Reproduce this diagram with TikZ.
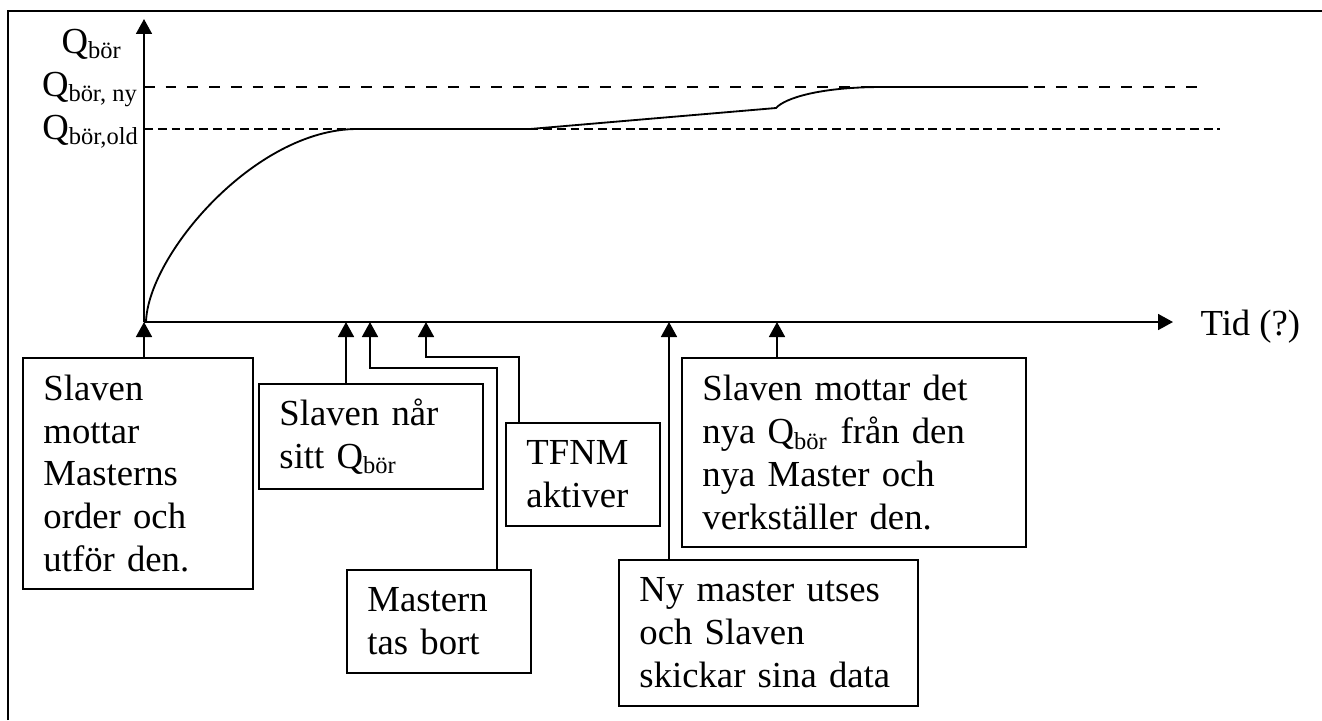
\documentclass[tikz,border=0pt]{standalone}
\usepackage{fontspec}
\setmainfont{Liberation Serif}
\usetikzlibrary{arrows.meta}

\begin{document}
\begin{tikzpicture}[x=0.327pt, y=-0.327pt,
    pil/.style={-{Triangle[length=4.9pt,width=5.2pt]}, line width=0.65pt},
    ruta/.style={draw, line width=0.65pt, anchor=north west, align=left,
        inner xsep=6.7pt, font=\fontsize{12}{14}\selectfont},
    etikett/.style={inner sep=0pt, font=\fontsize{12}{14}\selectfont}]

    \useasboundingbox (0,0) rectangle (1322,720);

    % Frame
    \draw[line width=0.65pt] (8,720) -- (8,11) -- (1322,11);

    % Draw axes
    \coordinate (O) at (144,322);
    \coordinate (xslut) at (1173,322);
    \coordinate (yslut) at (144,19);
    \draw[pil] (O) -- (xslut);
    \draw[pil] (O) -- (yslut);

    \node[etikett, anchor=base east] (qbor) at (123,53) {Q\textsubscript{bör}};
    \node[etikett, anchor=base east] (qny) at (139,96) {Q\textsubscript{bör, ny}};
    \node[etikett, anchor=base east] (qold) at (140,139) {Q\textsubscript{bör,old}};
    \node[etikett, anchor=base west] (tid) at (1200,335) {Tid (?)};

    % Levels
    \draw[line width=0.65pt, dash pattern=on 3.5pt off 3.6pt] (144,87) -- (1202,87);
    \draw[line width=0.65pt, dash pattern=on 2.9pt off 1.6pt] (144,129) -- (1220,129);

    % Q curve
    \draw[line width=0.6pt] (146,322) .. controls (148,255) and (255,129) .. (357,129)
        -- (530,129) -- (776,108) .. controls (785,98) and (820,87) .. (882,87) -- (1028,87);

    % Events
    \node[ruta, text width=61.8pt, minimum height=75.5pt] (b1) at (22,357)
        {Slaven\\mottar\\Masterns\\order och\\utför den.};
    \node[ruta, text width=59.8pt, minimum height=34.3pt] (b2) at (258,383)
        {Slaven når\\sitt Q\textsubscript{bör}};
    \node[ruta, text width=46.8pt, minimum height=33.7pt] (b3) at (346,569)
        {Mastern\\tas bort};
    \node[ruta, text width=37pt, minimum height=33.7pt] (b4) at (505,422)
        {TFNM\\aktiver};
    \node[ruta, text width=99.1pt, minimum height=61.8pt] (b5) at (681,357)
        {Slaven mottar det\\nya Q\textsubscript{bör} från den\\nya Master och\\verkställer den.};
    \node[ruta, text width=84.4pt, minimum height=47.7pt] (b6) at (618,559)
        {Ny master utses\\och Slaven\\skickar sina data};

    % Arrows to the time axis
    \coordinate (t2) at (346,322);
    \coordinate (t3) at (370,322);
    \coordinate (t4) at (426,322);
    \coordinate (t5) at (777,322);
    \coordinate (t6) at (669,322);
    \coordinate (k3) at (497,368);
    \coordinate (k4) at (519,357);

    \draw[pil] (O |- b1.north) -- (O);
    \draw[pil] (t2 |- b2.north) -- (t2);
    \draw[pil] (k3 |- b3.north) -- (k3) -| (t3);
    \draw[pil] (k4 |- b4.north) -- (k4) -| (t4);
    \draw[pil] (t5 |- b5.north) -- (t5);
    \draw[pil] (t6 |- b6.north) -- (t6);
\end{tikzpicture}
\end{document}
